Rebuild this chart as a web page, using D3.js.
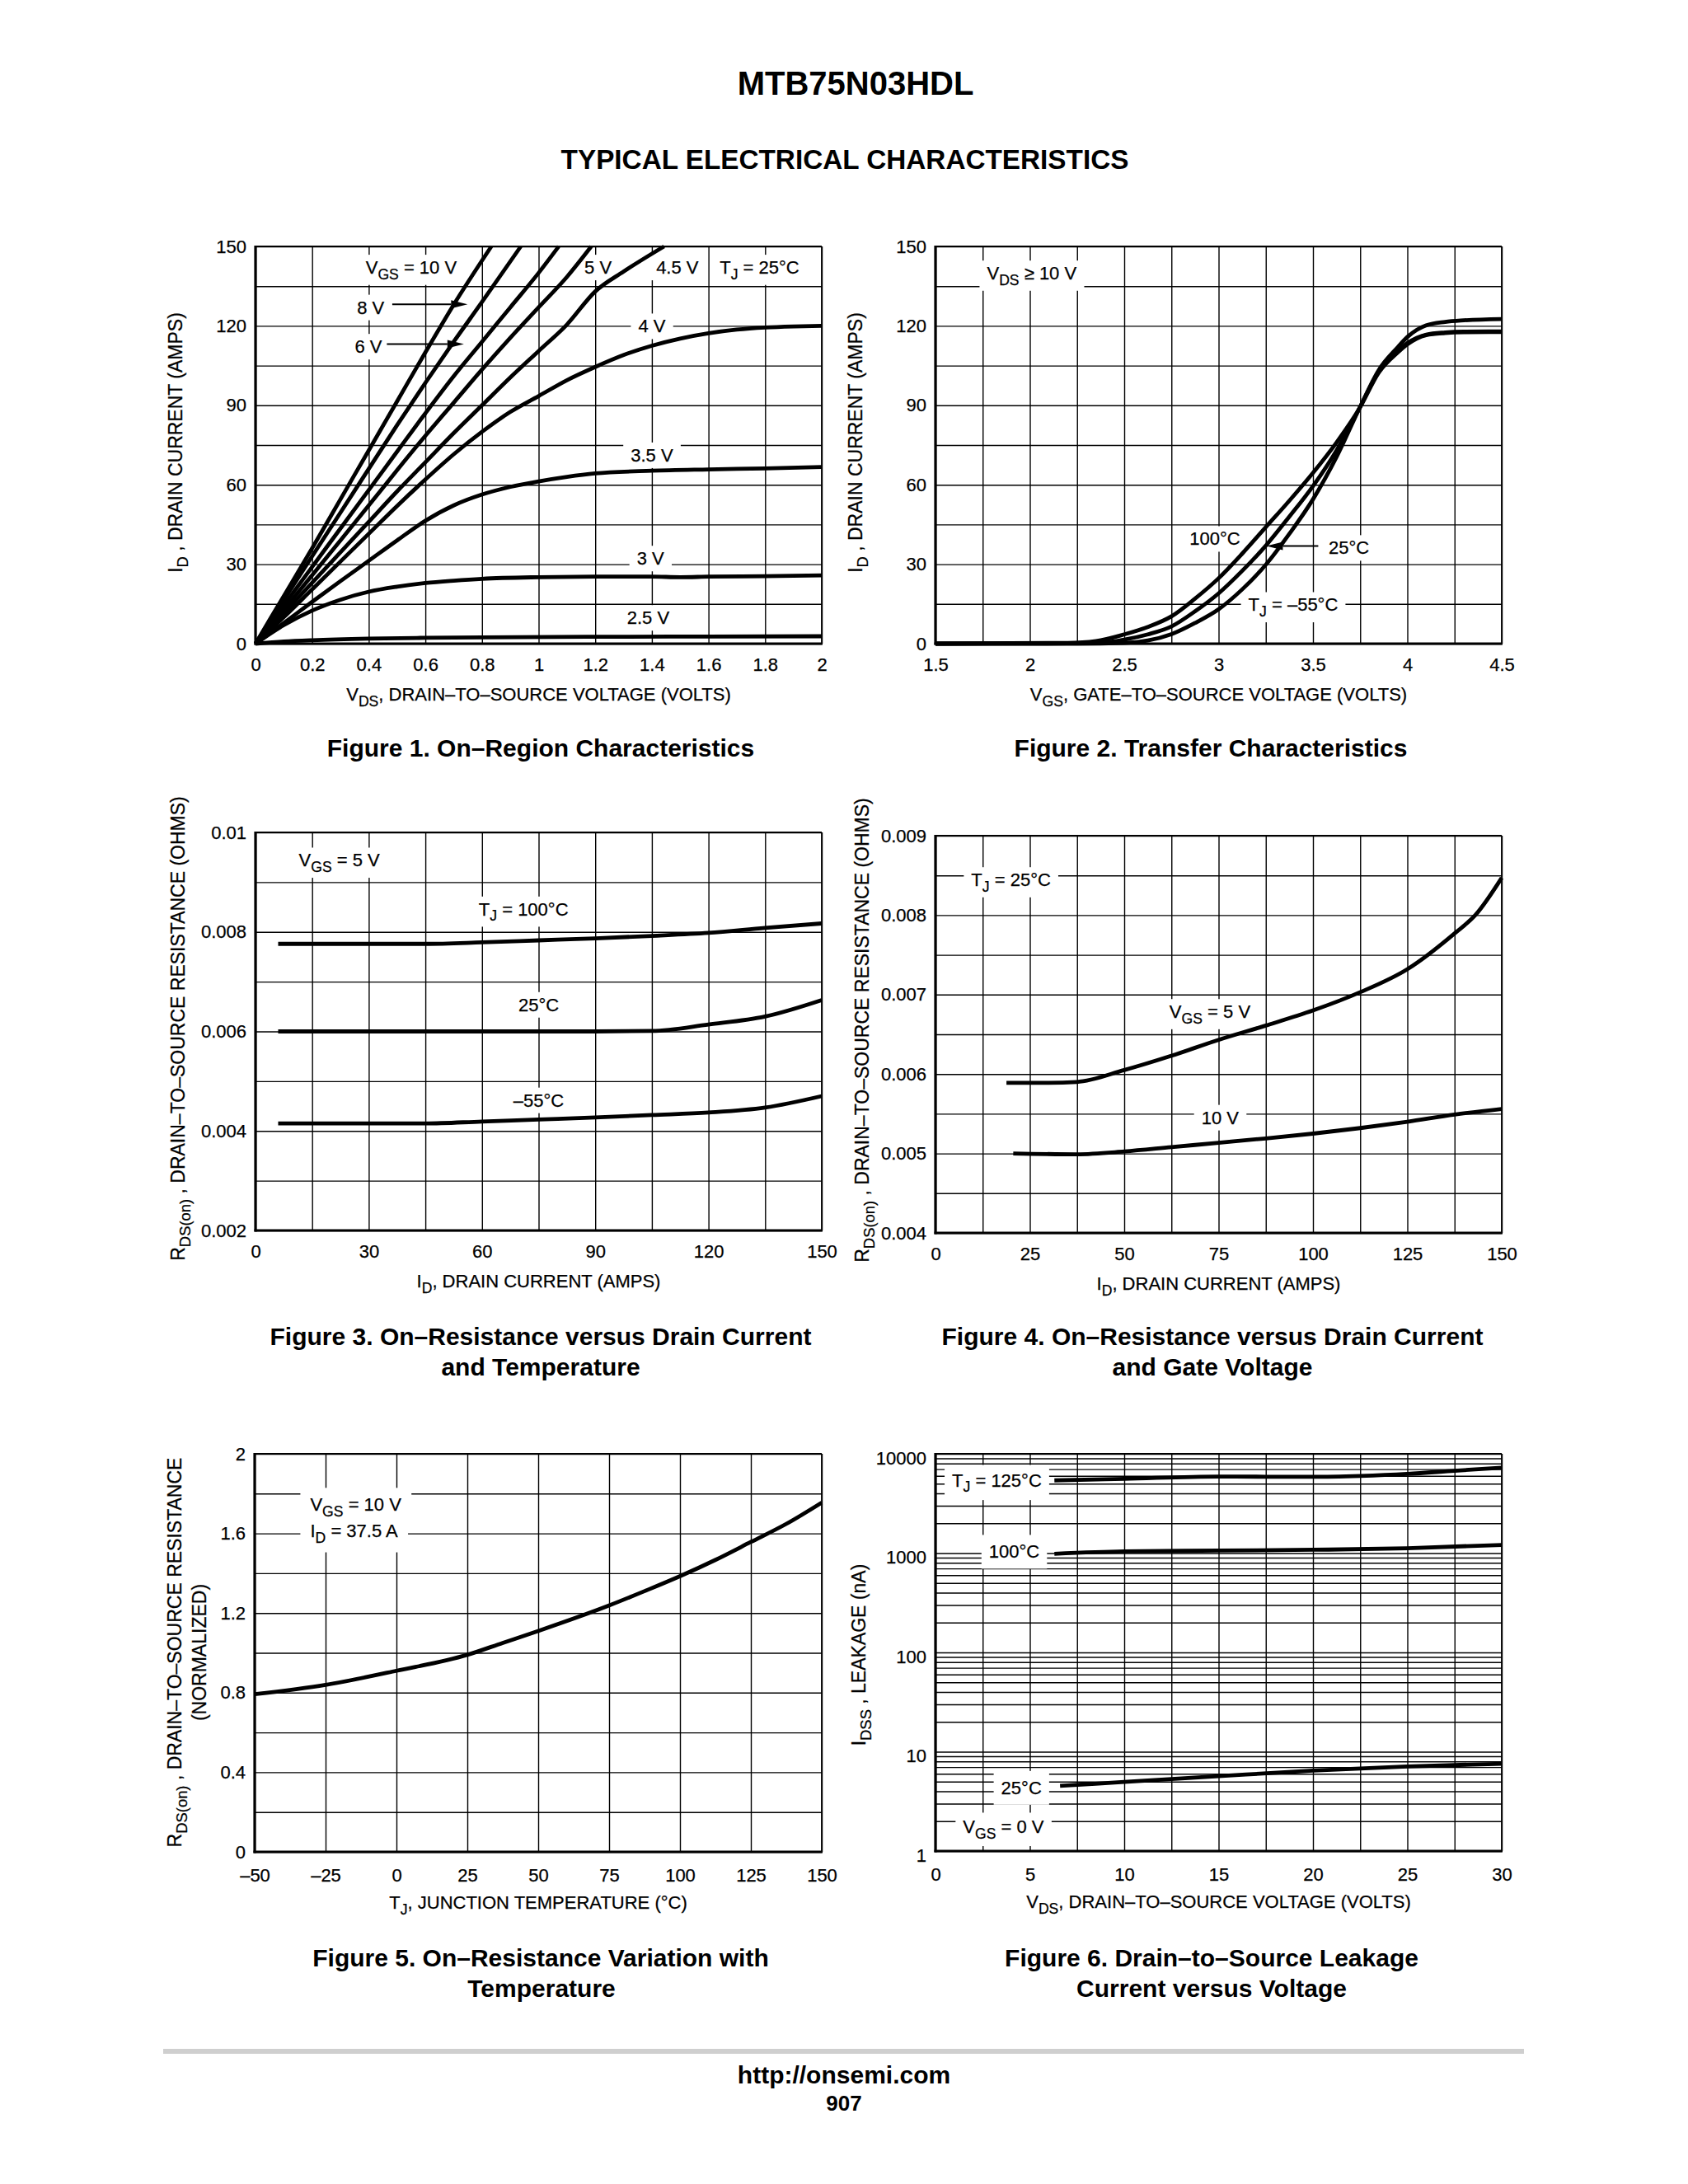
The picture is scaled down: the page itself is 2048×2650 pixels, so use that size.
<!DOCTYPE html>
<html><head><meta charset="utf-8">
<script src="https://cdn.jsdelivr.net/npm/d3@7"></script>
<style>
html,body{margin:0;padding:0;background:#fff;}
svg{display:block;}
text{font-family:"Liberation Sans",Arial,Helvetica,sans-serif;fill:#000;}
.thin text, text.thin{stroke:#000;stroke-width:0.25px;}
</style></head><body>
<svg id="page" width="2048" height="2650"></svg>
<script>
// ---------------- DATA ----------------
// Figure 1: ID (A) vs VDS (V) for several VGS
const fig1_vgs10 = [[0,0],[0.1,18],[0.2,36],[0.3,54.5],[0.4,73],[0.5,91.5],[0.6,110],[0.7,128],[0.833,150]];
const fig1_vgs8  = [[0,0],[0.1,16.5],[0.2,33],[0.3,49.5],[0.4,66],[0.5,82.5],[0.6,98.5],[0.7,114],[0.8,129],[0.937,150]];
const fig1_vgs6  = [[0,0],[0.1,14.5],[0.2,29],[0.3,43.5],[0.4,58],[0.5,72.5],[0.6,87],[0.7,101],[0.8,114],[0.9,127],[1.0,140],[1.071,150]];
const fig1_vgs5  = [[0,0],[0.1,12.8],[0.2,25.8],[0.3,39],[0.4,52.2],[0.5,65.5],[0.6,78.5],[0.7,91],[0.8,103.5],[0.9,115.5],[1.0,127],[1.1,138.5],[1.186,150]];
const fig1_vgs45 = [[0,0],[0.1,11.5],[0.2,23],[0.3,34.5],[0.4,46],[0.5,57.5],[0.6,68.5],[0.7,79.5],[0.8,90],[0.9,100.5],[1.0,110.5],[1.1,120.5],[1.2,133],[1.3,140.5],[1.443,150]];
const fig1_vgs4  = [[0,0],[0.1,10],[0.2,20.5],[0.3,31],[0.4,41.5],[0.5,52],[0.6,62],[0.7,71.5],[0.8,80],[0.9,87.5],[1.0,93.5],[1.1,99.5],[1.2,104.5],[1.3,109],[1.4,112.5],[1.5,115.2],[1.6,117.2],[1.7,118.6],[1.8,119.4],[1.9,119.8],[2.0,120]];
const fig1_vgs35 = [[0,0],[0.1,7.8],[0.2,15.8],[0.3,23.6],[0.4,31.3],[0.5,39],[0.6,46.4],[0.7,52.2],[0.8,56.3],[0.9,59.2],[1.0,61.3],[1.1,63],[1.2,64.3],[1.4,65.3],[1.6,65.8],[1.8,66.2],[2.0,66.7]];
const fig1_vgs3  = [[0,0],[0.1,7],[0.2,12.5],[0.3,16.6],[0.4,19.6],[0.5,21.5],[0.6,22.9],[0.7,23.8],[0.8,24.5],[1.0,25.1],[1.2,25.3],[1.4,25.3],[1.5,25.1],[1.6,25.3],[1.8,25.5],[2.0,25.8]];
const fig1_vgs25 = [[0,0],[0.1,0.8],[0.2,1.3],[0.4,1.9],[0.6,2.2],[0.8,2.4],[1.2,2.6],[1.6,2.7],[2.0,2.8]];
const fig1_xTicks = [0,0.2,0.4,0.6,0.8,1,1.2,1.4,1.6,1.8,2];
const fig1_xLabels = ['0','0.2','0.4','0.6','0.8','1','1.2','1.4','1.6','1.8','2'];
const fig1_yTicks = [0,30,60,90,120,150];
const fig1_yLabels = ['0','30','60','90','120','150'];

// Figure 2: ID (A) vs VGS (V) for three TJ
const fig2_tn55 = [[1.5,0],[2.25,0],[2.5,0.3],[2.625,1.2],[2.75,3.6],[2.875,7.8],[3.0,13],[3.125,20.5],[3.25,29.8],[3.375,41.5],[3.5,54.5],[3.625,70.5],[3.745,88.7],[3.85,103.5],[3.95,112],[4.0,115.8],[4.05,118.5],[4.1,120.2],[4.2,121.5],[4.3,122.1],[4.5,122.6]];
const fig2_t25  = [[1.5,0],[2.2,0.1],[2.4,0.5],[2.5,1.5],[2.625,3.5],[2.75,6.5],[2.875,12.2],[3.0,19],[3.125,27.5],[3.25,37],[3.375,48],[3.5,59.5],[3.625,73],[3.745,88.7],[3.85,103],[3.95,110.5],[4.0,113.5],[4.05,115.5],[4.1,116.7],[4.2,117.5],[4.3,117.8],[4.5,117.9]];
const fig2_t100 = [[1.5,0],[2.2,0.3],[2.35,1],[2.5,3.5],[2.625,6.3],[2.75,10.3],[2.875,17],[3.0,24.7],[3.125,34],[3.25,44],[3.375,54],[3.5,64.5],[3.625,76],[3.745,88.7],[3.85,102.5],[3.95,110],[4.0,113],[4.05,115.2],[4.1,116.5],[4.2,117.3],[4.3,117.6],[4.5,117.7]];
const fig2_xTicks = [1.5,2,2.5,3,3.5,4,4.5];
const fig2_xLabels = ['1.5','2','2.5','3','3.5','4','4.5'];

// Figure 3: RDS(on) (ohm) vs ID (A) for three TJ, VGS = 5 V
const fig3_t100 = [[6,0.00776],[20,0.00776],[45,0.00776],[60,0.00779],[75,0.00783],[90,0.00787],[105,0.00792],[120,0.00798],[135,0.00808],[150,0.00817]];
const fig3_t25  = [[6,0.006],[30,0.006],[60,0.006],[90,0.006],[105,0.00601],[120,0.00614],[135,0.0063],[150,0.00663]];
const fig3_tn55 = [[6,0.00415],[30,0.00415],[45,0.00415],[60,0.00419],[75,0.00423],[90,0.00427],[105,0.00432],[120,0.00437],[135,0.00447],[150,0.0047]];
const fig3_xTicks = [0,30,60,90,120,150];
const fig3_xLabels = ['0','30','60','90','120','150'];
const fig3_yTicks = [0.002,0.004,0.006,0.008,0.01];
const fig3_yLabels = ['0.002','0.004','0.006','0.008','0.01'];

// Figure 4: RDS(on) (ohm) vs ID (A) for VGS = 5 V and 10 V
const fig4_vgs5  = [[18.8,0.00589],[30,0.00589],[37.4,0.0059],[50,0.00605],[62.5,0.00623],[75,0.00643],[87.5,0.00661],[100,0.0068],[112.5,0.00703],[125,0.00732],[137.5,0.00777],[143,0.008],[150,0.00847]];
const fig4_vgs10 = [[20.6,0.005],[37.4,0.00499],[50,0.005025],[62.5,0.00508],[75,0.005135],[87.5,0.00519],[100,0.00525],[112.5,0.00532],[125,0.0054],[137.5,0.00549],[150,0.00556]];
const fig4_xTicks = [0,25,50,75,100,125,150];
const fig4_xLabels = ['0','25','50','75','100','125','150'];
const fig4_yTicks = [0.004,0.005,0.006,0.007,0.008,0.009];
const fig4_yLabels = ['0.004','0.005','0.006','0.007','0.008','0.009'];

// Figure 5: normalized RDS(on) vs TJ
const fig5_tj    = [-50,-25,0,25,37.5,50,75,87.5,100,112.5,125,137.5,150];
const fig5_rnorm = [0.792,0.839,0.91,0.99,1.05,1.11,1.238,1.31,1.385,1.467,1.557,1.648,1.755];
const fig5_xTicks = [-50,-25,0,25,50,75,100,125,150];
const fig5_xLabels = ['\u201350','\u201325','0','25','50','75','100','125','150'];
const fig5_yTicks = [0,0.4,0.8,1.2,1.6,2];
const fig5_yLabels = ['0','0.4','0.8','1.2','1.6','2'];

// Figure 6: IDSS (nA) vs VDS (V)
const fig6_vds125 = [6.3,10,15,20,22.5,25,27.5,30];
const fig6_i125   = [5400,5600,5900,5860,5990,6270,6750,7250];
const fig6_vds100 = [6.3,10,15,20,25,30];
const fig6_i100   = [985,1040,1060,1080,1120,1210];
const fig6_vds25  = [6.6,10,15,20,25,30];
const fig6_i25    = [4.53,4.96,5.67,6.46,7.12,7.56];
const fig6_xTicks = [0,5,10,15,20,25,30];
const fig6_xLabels = ['0','5','10','15','20','25','30'];
const fig6_yTicks = [1,10,100,1000,10000];
const fig6_yLabels = ['1','10','100','1000','10000'];

// ---------------- DRAWING ----------------
const svg = d3.select('#page');
const TICK_FS = 22, TITLE_FS = 22, YTITLE_FS = 23, LBL_FS = 22;
const SUB_R = 0.8, SUB_DY = 0.3;
const GRID_W = 1.4, CURVE_W = 4.8;

svg.append('rect').attr('width',2048).attr('height',2650).attr('fill','#fff');

function addRich(textSel, parts, fs){
  let shifted = false;
  parts.forEach(p => {
    const ts = textSel.append('tspan').text(p[0]);
    const isSub = p[1] === 'sub';
    if (isSub && !shifted) { ts.attr('dy', fs*SUB_DY); shifted = true; }
    else if (!isSub && shifted) { ts.attr('dy', -fs*SUB_DY); shifted = false; }
    if (isSub) ts.attr('font-size', fs*SUB_R);
  });
}

function makeLabel(L, px, py, parts, o){
  const fs = o.fs || LBL_FS;
  const t = L.text.append('text').attr('x',px).attr('y',py).attr('font-size',fs).attr('text-anchor',o.anchor || 'middle');
  addRich(t, parts, fs);
  if (o.box !== false) {
    const b = t.node().getBBox();
    const padX = o.padX != null ? o.padX : 9, padY = o.padY != null ? o.padY : 3;
    L.box.append('rect').attr('x',b.x-padX).attr('y',b.y-padY).attr('width',b.width+2*padX).attr('height',b.height+2*padY).attr('fill','#fff');
  }
}

function arrow(g, x1, y1, x2, y2){
  const ang = Math.atan2(y2-y1, x2-x1), HL = 20, HW = 5;
  const bx = x2 - HL*Math.cos(ang), by = y2 - HL*Math.sin(ang);
  g.append('line').attr('x1',x1).attr('y1',y1).attr('x2',bx).attr('y2',by).attr('stroke','#000').attr('stroke-width',2);
  g.append('polygon').attr('points',[[x2,y2],[bx+HW*Math.sin(ang),by-HW*Math.cos(ang)],[bx-HW*Math.sin(ang),by+HW*Math.cos(ang)]].map(p=>p.join(',')).join(' ')).attr('fill','#000');
}

function buildChart(c){
  const g = svg.append('g').attr('class','thin');
  const x = d3.scaleLinear().domain(c.xDomain).range([c.left, c.right]);
  const y = (c.log ? d3.scaleLog() : d3.scaleLinear()).domain(c.yDomain).range([c.bottom, c.top]);
  const H = c.bottom - c.top, W = c.right - c.left;
  const L = {grid:g.append('g'), box:g.append('g'), curve:g.append('g'), text:g.append('g'), frame:g.append('g'), axes:g.append('g')};

  L.grid.append('g').attr('transform',`translate(0,${c.bottom})`)
    .call(d3.axisBottom(x).tickValues(c.xGrid).tickSize(-H).tickFormat(''))
    .call(a => { a.select('.domain').remove(); a.selectAll('line').attr('stroke','#000').attr('stroke-width',GRID_W); });
  L.grid.append('g').attr('transform',`translate(${c.left},0)`)
    .call(d3.axisLeft(y).tickValues(c.yGrid).tickSize(-W).tickFormat(''))
    .call(a => { a.select('.domain').remove(); a.selectAll('line').attr('stroke','#000').attr('stroke-width',GRID_W); });

  const xa = L.axes.append('g').attr('transform',`translate(0,${c.bottom})`)
    .call(d3.axisBottom(x).tickValues(c.xTicks).tickFormat(d => c.xLabels[c.xTicks.indexOf(d)]).tickSize(0).tickPadding(c.xPad || 17));
  xa.select('.domain').remove();
  xa.attr('font-family',null).attr('font-size',TICK_FS);
  const ya = L.axes.append('g').attr('transform',`translate(${c.left},0)`)
    .call(d3.axisLeft(y).tickValues(c.yTicks).tickFormat(d => c.yLabels[c.yTicks.indexOf(d)]).tickSize(0).tickPadding(11));
  ya.select('.domain').remove();
  ya.attr('font-family',null).attr('font-size',TICK_FS);
  if (c.yLabelShift) ya.selectAll('text').attr('transform',`translate(0,${c.yLabelShift})`);

  const line = d3.line().x(d => x(d[0])).y(d => y(d[1])).curve(d3.curveMonotoneX);
  c.series.forEach(s => L.curve.append('path').attr('d', line(s)).attr('fill','none')
    .attr('stroke','#000').attr('stroke-width',CURVE_W).attr('stroke-linejoin','round'));

  c.labels.forEach(lb => makeLabel(L, x(lb.x), y(lb.y), lb.parts, lb));
  (c.arrows || []).forEach(a => arrow(L.text, x(a[0]), y(a[1]), x(a[2]), y(a[3])));

  const fr = L.frame;
  fr.append('line').attr('x1',c.left).attr('x2',c.right).attr('y1',c.top).attr('y2',c.top).attr('stroke','#000').attr('stroke-width',1.8);
  fr.append('line').attr('x1',c.right).attr('x2',c.right).attr('y1',c.top).attr('y2',c.bottom).attr('stroke','#000').attr('stroke-width',1.8);
  fr.append('line').attr('x1',c.left).attr('x2',c.left).attr('y1',c.top-1).attr('y2',c.bottom+1.5).attr('stroke','#000').attr('stroke-width',3.2);
  fr.append('line').attr('x1',c.left-1.5).attr('x2',c.right+1).attr('y1',c.bottom).attr('y2',c.bottom).attr('stroke','#000').attr('stroke-width',3.2);

  const xt = L.axes.append('text').attr('x',(c.left+c.right)/2).attr('y',c.bottom+69).attr('text-anchor','middle').attr('font-size',TITLE_FS);
  addRich(xt, c.xTitle, TITLE_FS);
  c.yTitle.forEach(yt => {
    const t = L.axes.append('text').attr('transform',`translate(${yt.bx},${yt.cy}) rotate(-90)`).attr('text-anchor','middle').attr('font-size',YTITLE_FS);
    addRich(t, yt.parts, YTITLE_FS);
  });
}

const col1 = {left:310, right:997}, col2 = {left:1135, right:1822};
const sub = (a) => [[a[0]],[a[1],'sub'],[a[2]]];

// Figure 1
buildChart(Object.assign({}, col1, {
  top:299, bottom:781, xDomain:[0,2], yDomain:[0,150],
  xGrid:d3.range(0,2.001,0.2), yGrid:d3.range(0,151,15),
  xTicks:fig1_xTicks, xLabels:fig1_xLabels, yTicks:fig1_yTicks, yLabels:fig1_yLabels,
  series:[fig1_vgs10,fig1_vgs8,fig1_vgs6,fig1_vgs5,fig1_vgs45,fig1_vgs4,fig1_vgs35,fig1_vgs3,fig1_vgs25],
  labels:[
    {x:0.55,y:139.7,parts:sub(['V','GS',' = 10 V'])},
    {x:1.21,y:139.7,parts:[['5 V']]},
    {x:1.49,y:139.7,parts:[['4.5 V']]},
    {x:1.78,y:139.7,parts:sub(['T','J',' = 25°C'])},
    {x:0.455,y:124.6,parts:[['8 V']],anchor:'end',padX:5},
    {x:0.447,y:109.8,parts:[['6 V']],anchor:'end',padX:5},
    {x:1.40,y:117.5,parts:[['4 V']]},
    {x:1.40,y:68.8,parts:[['3.5 V']]},
    {x:1.395,y:29.8,parts:[['3 V']]},
    {x:1.387,y:7.4,parts:[['2.5 V']]}
  ],
  arrows:[[0.483,128.1,0.749,128.1],[0.464,113.1,0.736,113.1]],
  xTitle:sub(['V','DS',', DRAIN\u2013TO\u2013SOURCE VOLTAGE (VOLTS)']),
  yTitle:[{bx:221,cy:537,parts:sub(['I','D',' , DRAIN CURRENT (AMPS)'])}]
}));

// Figure 2
buildChart(Object.assign({}, col2, {
  top:299, bottom:781, xDomain:[1.5,4.5], yDomain:[0,150],
  xGrid:d3.range(1.5,4.501,0.25), yGrid:d3.range(0,151,15),
  xTicks:fig2_xTicks, xLabels:fig2_xLabels, yTicks:fig1_yTicks, yLabels:fig1_yLabels,
  series:[fig2_tn55,fig2_t25,fig2_t100],
  labels:[
    {x:2.01,y:137.5,parts:sub(['V','DS',' \u2265 10 V'])},
    {x:2.98,y:37.2,parts:[['100°C']]},
    {x:3.69,y:33.8,parts:[['25°C']]},
    {x:3.395,y:12.3,parts:sub(['T','J',' = \u201355°C'])}
  ],
  arrows:[[3.528,36.9,3.253,36.9]],
  xTitle:sub(['V','GS',', GATE\u2013TO\u2013SOURCE VOLTAGE (VOLTS)']),
  yTitle:[{bx:1046,cy:537,parts:sub(['I','D',' , DRAIN CURRENT (AMPS)'])}]
}));

// Figure 3
buildChart(Object.assign({}, col1, {
  top:1010, bottom:1493, xDomain:[0,150], yDomain:[0.002,0.01],
  xGrid:d3.range(0,151,15), yGrid:d3.range(0.002,0.01001,0.001),
  xTicks:fig3_xTicks, xLabels:fig3_xLabels, yTicks:fig3_yTicks, yLabels:fig3_yLabels,
  series:[fig3_t100,fig3_t25,fig3_tn55],
  labels:[
    {x:22.2,y:0.009313,parts:sub(['V','GS',' = 5 V'])},
    {x:71,y:0.00833,parts:sub(['T','J',' = 100°C'])},
    {x:75,y:0.00641,parts:[['25°C']]},
    {x:75,y:0.00449,parts:[['\u201355°C']]}
  ],
  xTitle:sub(['I','D',', DRAIN CURRENT (AMPS)']),
  yTitle:[{bx:224,cy:1248,parts:sub(['R','DS(on)',' , DRAIN\u2013TO\u2013SOURCE RESISTANCE (OHMS)'])}]
}));

// Figure 4
buildChart(Object.assign({}, col2, {
  top:1014, bottom:1496, xDomain:[0,150], yDomain:[0.004,0.009],
  xGrid:d3.range(0,150.01,12.5), yGrid:d3.range(0.004,0.00901,0.0005),
  xTicks:fig4_xTicks, xLabels:fig4_xLabels, yTicks:fig4_yTicks, yLabels:fig4_yLabels,
  series:[fig4_vgs5,fig4_vgs10],
  labels:[
    {x:20,y:0.008365,parts:sub(['T','J',' = 25°C'])},
    {x:72.7,y:0.006705,parts:sub(['V','GS',' = 5 V'])},
    {x:75.4,y:0.005373,parts:[['10 V']]}
  ],
  xTitle:sub(['I','D',', DRAIN CURRENT (AMPS)']),
  yTitle:[{bx:1054,cy:1250,parts:sub(['R','DS(on)',' , DRAIN\u2013TO\u2013SOURCE RESISTANCE (OHMS)'])}]
}));

// Figure 5
buildChart(Object.assign({}, {left:309, right:997}, {
  top:1764, bottom:2247, xDomain:[-50,150], yDomain:[0,2],
  xGrid:d3.range(-50,151,25), yGrid:d3.range(0,2.001,0.2),
  xTicks:fig5_xTicks, xLabels:fig5_xLabels, yTicks:fig5_yTicks, yLabels:fig5_yLabels, xPad:20,
  series:[fig5_tj.map((t,i) => [t, fig5_rnorm[i]])],
  labels:[
    {x:-30.4,y:1.713,parts:sub(['V','GS',' = 10 V']),anchor:'start',padX:12,padY:8},
    {x:-30.4,y:1.582,parts:sub(['I','D',' = 37.5 A']),anchor:'start',padX:12,padY:8}
  ],
  xTitle:sub(['T','J',', JUNCTION TEMPERATURE (°C)']),
  yTitle:[{bx:220,cy:2005,parts:sub(['R','DS(on)',' , DRAIN\u2013TO\u2013SOURCE RESISTANCE'])},
          {bx:250,cy:2005,parts:[['(NORMALIZED)']]}]
}));

// Figure 6
const logGrid = [];
[1,10,100,1000].forEach(d => { for (let k = 1; k < 10; k++) logGrid.push(k*d); });
logGrid.push(10000);
buildChart(Object.assign({}, col2, {
  top:1764, bottom:2246, xDomain:[0,30], yDomain:[1,10000], log:true,
  xGrid:d3.range(0,30.01,2.5), yGrid:logGrid,
  xTicks:fig6_xTicks, xLabels:fig6_xLabels, yTicks:fig6_yTicks, yLabels:fig6_yLabels, xPad:20, yLabelShift:5,
  series:[fig6_vds125.map((v,i)=>[v,fig6_i125[i]]), fig6_vds100.map((v,i)=>[v,fig6_i100[i]]), fig6_vds25.map((v,i)=>[v,fig6_i25[i]])],
  labels:[
    {x:3.25,y:4700,parts:sub(['T','J',' = 125°C']),padY:6},
    {x:4.17,y:893,parts:[['100°C']],padY:8},
    {x:4.55,y:3.75,parts:[['25°C']],padY:8},
    {x:3.6,y:1.51,parts:sub(['V','GS',' = 0 V']),padY:5}
  ],
  xTitle:sub(['V','DS',', DRAIN\u2013TO\u2013SOURCE VOLTAGE (VOLTS)']),
  yTitle:[{bx:1050,cy:2008,parts:sub(['I','DSS',' , LEAKAGE (nA)'])}]
}));

// ---------------- PAGE TEXT ----------------
function ptext(x, y, s, fs, weight){
  svg.append('text').attr('x',x).attr('y',y).attr('text-anchor','middle').attr('font-size',fs).attr('font-weight',weight||'bold').text(s);
}
ptext(1038, 115, 'MTB75N03HDL', 40);
ptext(1025, 205, 'TYPICAL ELECTRICAL CHARACTERISTICS', 33.3);
const CAP = 30;
ptext(656, 918, 'Figure 1. On\u2013Region Characteristics', CAP);
ptext(1469, 918, 'Figure 2. Transfer Characteristics', CAP);
ptext(656, 1632, 'Figure 3. On\u2013Resistance versus Drain Current', CAP);
ptext(656, 1669, 'and Temperature', CAP);
ptext(1471, 1632, 'Figure 4. On\u2013Resistance versus Drain Current', CAP);
ptext(1471, 1669, 'and Gate Voltage', CAP);
ptext(656, 2386, 'Figure 5. On\u2013Resistance Variation with', CAP);
ptext(657, 2423, 'Temperature', CAP);
ptext(1470, 2386, 'Figure 6. Drain\u2013to\u2013Source Leakage', CAP);
ptext(1470, 2423, 'Current versus Voltage', CAP);
svg.append('line').attr('x1',198).attr('x2',1849).attr('y1',2489).attr('y2',2489).attr('stroke','#cfcfcf').attr('stroke-width',6);
ptext(1024, 2528, 'http://onsemi.com', 30);
ptext(1024, 2561, '907', 26);
</script>
</body></html>
